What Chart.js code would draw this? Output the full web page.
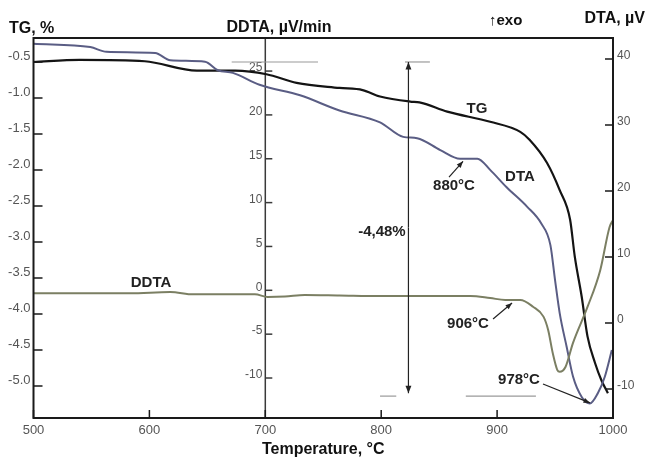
<!DOCTYPE html>
<html>
<head>
<meta charset="utf-8">
<script src="https://cdn.jsdelivr.net/npm/chart.js@4.4.0/dist/chart.umd.min.js"></script>
<style>
  html, body { margin: 0; padding: 0; background: #fff; }
</style>
</head>
<body>
<canvas id="thermo" width="647" height="459"></canvas>
<script>
// Tick values for the four axes
const tempTicks = [500, 600, 700, 800, 900, 1000];
const tgTicks = [-0.5, -1.0, -1.5, -2.0, -2.5, -3.0, -3.5, -4.0, -4.5, -5.0];
const ddtaTicks = [25, 20, 15, 10, 5, 0, -5, -10];
const dtaTicks = [40, 30, 20, 10, 0, -10];

// TG, % vs temperature
const tgTemp = [500, 540, 596, 641, 674, 701, 727, 764, 784, 799, 825, 833, 857, 894, 920, 928, 943, 954, 963, 967, 973, 978, 984.5, 990, 995.6];
const tgValues = [-0.50, -0.47, -0.49, -0.62, -0.62, -0.67, -0.79, -0.86, -0.89, -0.98, -1.05, -1.06, -1.19, -1.33, -1.47, -1.58, -1.90, -2.28, -2.69, -3.20, -3.76, -4.31, -4.68, -4.92, -5.10];

// DTA, µV vs temperature
const dtaTemp = [500, 549, 563, 605, 618, 648, 659, 672, 695, 730, 764, 799, 819, 831, 851, 868, 883, 894, 908, 926, 938, 946, 950, 954, 960, 965.5, 973, 980, 987, 993, 999];
const dtaValues = [42.3, 41.8, 41.1, 40.9, 39.8, 39.6, 38.3, 37.9, 36.1, 34.5, 32.2, 30.4, 28.2, 28.0, 26.2, 24.9, 24.9, 23.2, 20.6, 17.6, 15.1, 11.8, 6.5, 1.5, -3.6, -8.1, -11.2, -12.2, -10.6, -8.1, -4.1];

// DDTA, µV/min vs temperature
const ddtaTemp = [500, 583, 618, 638, 691, 702, 717, 734, 764, 799, 877, 894, 907, 920, 931, 940, 944, 948, 952, 954, 959, 965.5, 978, 989, 997, 1000];
const ddtaValues = [-0.34, -0.34, -0.19, -0.46, -0.46, -0.76, -0.71, -0.54, -0.59, -0.65, -0.65, -0.88, -1.1, -1.1, -1.87, -3.0, -4.5, -7.15, -9.1, -9.3, -8.75, -6.0, -1.9, 2.3, 7.2, 8.0];

// Labels placed next to the curves (temperature, axis value)
const curveLabels = [
  { text: 'TG', axis: 'yTG', at: [882.6, -1.15] },
  { text: 'DTA', axis: 'yDTA', at: [919.7, 22.1] },
  { text: 'DDTA', axis: 'yDDTA', at: [601.4, 0.83] }
];

// Peak callouts with an arrow pointing at the curve
const callouts = [
  { text: '880°C', axis: 'yDTA', at: [862.8, 20.76], from: [858.5, 22.1], to: [870.6, 24.5] },
  { text: '906°C', axis: 'yDDTA', at: [874.9, -3.84], from: [896.5, -3.27], to: [912.9, -1.45] },
  { text: '978°C', axis: 'yDTA', at: [918.9, -8.64], from: [939.6, -9.24], to: [980.2, -12.1] }
];

// Mass loss step: arrow temperature, upper and lower TG level
const stepTemp = 823.5;
const stepTop = -0.5;
const stepBottom = -5.1;
const stepText = '-4,48%';
const stepTextAt = [800.6, -2.86];
// thin guide lines: [from temp, to temp, TG level]
const guides = [[671, 745.5, -0.5], [820.5, 842, -0.5], [799, 813, -5.14], [873, 933.5, -5.14]];

const FONT = 'Liberation Sans, Arial, sans-serif';
const asTicks = arr => arr.map(v => ({ value: v }));

function arrowLine(ctx, x1, y1, x2, y2, size) {
  ctx.beginPath();
  ctx.moveTo(x1, y1);
  ctx.lineTo(x2, y2);
  ctx.stroke();
  const a = Math.atan2(y2 - y1, x2 - x1);
  ctx.beginPath();
  ctx.moveTo(x2, y2);
  ctx.lineTo(x2 - size * Math.cos(a - 0.38), y2 - size * Math.sin(a - 0.38));
  ctx.lineTo(x2 - size * Math.cos(a + 0.38), y2 - size * Math.sin(a + 0.38));
  ctx.closePath();
  ctx.fill();
}

const decor = {
  id: 'decor',
  beforeDatasetsDraw(chart) {
    const { ctx, chartArea: a, scales } = chart;
    const x = scales.x, dd = scales.yDDTA;
    const mx = x.getPixelForValue(700);
    ctx.save();
    // DDTA axis in the middle of the plot
    ctx.strokeStyle = '#3a3a3a';
    ctx.lineWidth = 1.5;
    ctx.beginPath();
    ctx.moveTo(mx, a.top);
    ctx.lineTo(mx, a.bottom);
    ctx.stroke();
    ctx.fillStyle = '#555';
    ctx.font = '12px ' + FONT;
    ctx.textAlign = 'right';
    ctx.textBaseline = 'middle';
    ddtaTicks.forEach(v => {
      const y = dd.getPixelForValue(v);
      ctx.beginPath();
      ctx.moveTo(mx, y);
      ctx.lineTo(mx + 7, y);
      ctx.stroke();
      ctx.fillText(String(v), mx - 3, y - 3);
    });
    // guide lines for the mass loss step
    ctx.strokeStyle = '#9a9a9a';
    ctx.lineWidth = 1.2;
    guides.forEach(([t1, t2, v]) => {
      const y = scales.yTG.getPixelForValue(v);
      ctx.beginPath();
      ctx.moveTo(x.getPixelForValue(t1), y);
      ctx.lineTo(x.getPixelForValue(t2), y);
      ctx.stroke();
    });
    ctx.restore();
  },
  afterDatasetsDraw(chart) {
    const { ctx, chartArea: a, scales } = chart;
    const x = scales.x;
    ctx.save();
    // frame
    ctx.strokeStyle = '#1a1a1a';
    ctx.lineWidth = 2;
    ctx.strokeRect(a.left, a.top, a.right - a.left, a.bottom - a.top);
    // inward tick marks
    ctx.lineWidth = 1.5;
    ctx.beginPath();
    tempTicks.forEach(v => {
      const px = x.getPixelForValue(v);
      ctx.moveTo(px, a.bottom);
      ctx.lineTo(px, a.bottom - 8);
    });
    tgTicks.forEach(v => {
      const py = scales.yTG.getPixelForValue(v);
      ctx.moveTo(a.left, py);
      ctx.lineTo(a.left + 9, py);
    });
    dtaTicks.forEach(v => {
      const py = scales.yDTA.getPixelForValue(v);
      ctx.moveTo(a.right, py);
      ctx.lineTo(a.right - 8, py);
    });
    ctx.stroke();

    // mass loss double arrow
    ctx.strokeStyle = '#222';
    ctx.fillStyle = '#222';
    ctx.lineWidth = 1.2;
    const sx = x.getPixelForValue(stepTemp);
    const sy1 = scales.yTG.getPixelForValue(stepTop);
    const sy2 = scales.yTG.getPixelForValue(stepBottom);
    const mid = (sy1 + sy2) / 2;
    arrowLine(ctx, sx, mid, sx, sy1, 8);
    arrowLine(ctx, sx, mid, sx, sy2, 8);

    // callouts
    ctx.font = 'bold 15px ' + FONT;
    ctx.textAlign = 'center';
    ctx.textBaseline = 'middle';
    callouts.forEach(c => {
      const s = scales[c.axis];
      arrowLine(ctx, x.getPixelForValue(c.from[0]), s.getPixelForValue(c.from[1]),
        x.getPixelForValue(c.to[0]), s.getPixelForValue(c.to[1]), 7);
      ctx.fillText(c.text, x.getPixelForValue(c.at[0]), s.getPixelForValue(c.at[1]));
    });
    curveLabels.forEach(c => {
      const s = scales[c.axis];
      ctx.fillText(c.text, x.getPixelForValue(c.at[0]), s.getPixelForValue(c.at[1]));
    });
    ctx.fillText(stepText, x.getPixelForValue(stepTextAt[0]), scales.yTG.getPixelForValue(stepTextAt[1]));

    // axis titles
    ctx.fillStyle = '#111';
    ctx.font = 'bold 16px ' + FONT;
    ctx.textBaseline = 'alphabetic';
    ctx.textAlign = 'left';
    ctx.fillText('TG, %', 9, 33);
    ctx.textAlign = 'center';
    ctx.fillText('DDTA, \u00b5V/min', 279, 32);
    ctx.fillText('Temperature, °C', (a.left + a.right) / 2, 454);
    ctx.textAlign = 'right';
    ctx.fillText('DTA, \u00b5V', 645, 23);
    ctx.textAlign = 'left';
    ctx.font = 'bold 15px ' + FONT;
    ctx.fillText('\u2191exo', 489, 25);
    ctx.restore();
  }
};

const line = (label, temps, values, axis, color, width) => ({
  label,
  data: temps.map((t, i) => ({ x: t, y: values[i] })),
  yAxisID: axis,
  borderColor: color,
  borderWidth: width,
  pointRadius: 0,
  fill: false,
  cubicInterpolationMode: 'monotone'
});

new Chart(document.getElementById('thermo').getContext('2d'), {
  type: 'line',
  data: {
    datasets: [
      line('DDTA', ddtaTemp, ddtaValues, 'yDDTA', '#7b7f63', 2),
      line('DTA', dtaTemp, dtaValues, 'yDTA', '#5a5d84', 2),
      line('TG', tgTemp, tgValues, 'yTG', '#141414', 2.2)
    ]
  },
  options: {
    responsive: false,
    animation: false,
    layout: { padding: { top: 38, left: 0, right: 0, bottom: 0 } },
    plugins: { legend: { display: false }, tooltip: { enabled: false } },
    scales: {
      x: {
        type: 'linear', position: 'bottom', min: 500, max: 1000,
        afterBuildTicks: s => { s.ticks = asTicks(tempTicks); },
        afterFit: s => { s.height = 41; },
        grid: { display: false, drawTicks: false },
        border: { display: false },
        ticks: { color: '#555', font: { family: FONT, size: 13 }, padding: 5, maxRotation: 0, autoSkip: false, callback: v => String(v) }
      },
      yTG: {
        position: 'left', min: -5.444, max: -0.167,
        afterBuildTicks: s => { s.ticks = asTicks(tgTicks); },
        afterFit: s => { s.width = 33.5; },
        grid: { display: false, drawTicks: false },
        border: { display: false },
        ticks: { color: '#555', font: { family: FONT, size: 13 }, padding: 3, labelOffset: -6, autoSkip: false, callback: v => v.toFixed(1) }
      },
      yDTA: {
        position: 'right', min: -14.39, max: 43.18,
        afterBuildTicks: s => { s.ticks = asTicks(dtaTicks); },
        afterFit: s => { s.width = 34; },
        grid: { display: false, drawTicks: false },
        border: { display: false },
        ticks: { color: '#555', font: { family: FONT, size: 12 }, padding: 4, labelOffset: -3, autoSkip: false, callback: v => String(v) }
      },
      yDDTA: {
        display: false, min: -14.56, max: 28.77
      }
    }
  },
  plugins: [decor]
});
</script>
</body>
</html>
